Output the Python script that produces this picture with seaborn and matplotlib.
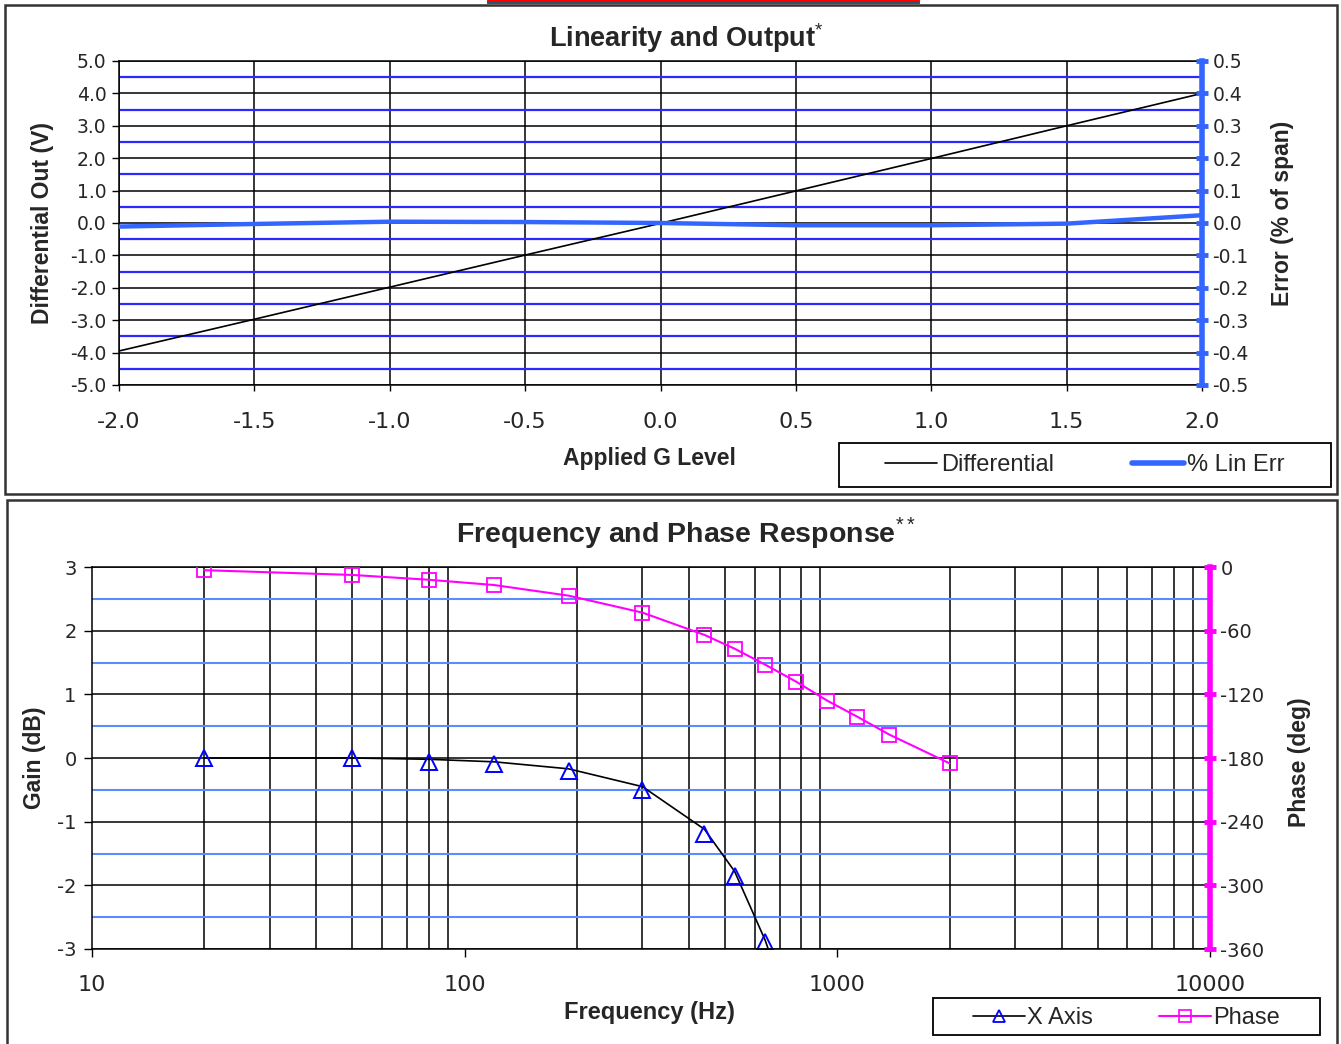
import numpy as np
import matplotlib
matplotlib.use("Agg")
import matplotlib.pyplot as plt
import seaborn as sns
from matplotlib.ticker import MultipleLocator, LogLocator, FixedLocator, NullFormatter, FormatStrFormatter
from matplotlib.patches import Rectangle
from matplotlib.lines import Line2D

sns.set_style("white")
plt.rcParams['font.family'] = ['Liberation Sans', 'DejaVu Sans']
plt.rcParams['axes.unicode_minus'] = False
plt.rcParams['mathtext.fontset'] = 'custom'
plt.rcParams['mathtext.rm'] = 'Liberation Sans'
plt.rcParams['mathtext.bf'] = 'Liberation Sans:bold'

# Linearity data
g_level = [-2.0, -1.5, -1.0, -0.5, 0.0, 0.5, 1.0, 1.5, 2.0]
diff_out = [-3.95, -2.97, -1.98, -0.99, -0.01, 0.99, 1.99, 3.0, 4.0]
lin_err = [-0.011, -0.003, 0.004, 0.003, 0.0, -0.007, -0.007, -0.002, 0.024]

# Frequency response data
gain_freq = [20, 50, 80, 120, 190, 300, 440, 530, 640]
gain_db = [0.0, 0.0, -0.07, -0.09, -0.21, -0.50, -1.20, -1.85, -2.89]
# curve drawn with the gain points, runs off the bottom of the plot
curve_freq = [20, 50, 80, 120, 190, 300, 440, 530, 640, 680]
curve_db = [0.0, 0.0, -0.02, -0.06, -0.17, -0.45, -1.12, -1.78, -2.86, -3.3]
phase_freq = [20, 50, 80, 120, 190, 300, 440, 530, 640, 775, 940, 1130, 1380, 2000]
phase_deg = [-3, -7.5, -12, -17, -27, -43, -64, -77, -92, -108, -126, -141, -158, -185]

LIN_BLUE = '#3366ff'
GRID_BLUE = '#2a2aff'
GRID_BLUE2 = '#5b8cff'
MAGENTA = '#ff00ff'
TICK_FONT = ['DejaVu Sans']

fig = plt.figure(figsize=(13.41, 10.44), dpi=100)

# panel borders
fig.add_artist(Rectangle((5 / 1341, 1 - 494 / 1044), 1332 / 1341, 489 / 1044,
                         transform=fig.transFigure, fill=False, ec='#333333', lw=1.8))
fig.add_artist(Rectangle((7 / 1341, -0.01), 1330 / 1341, 544 / 1044 + 0.01,
                         transform=fig.transFigure, fill=False, ec='#333333', lw=1.8))
fig.add_artist(Rectangle((487 / 1341, 1 - 3 / 1044), 432 / 1341, 3 / 1044,
                         transform=fig.transFigure, fc='#1f5a70', ec='red', lw=0.8))

# ---------------- Top chart ----------------
ax1 = fig.add_axes([119 / 1341, 1 - 385 / 1044, 1083 / 1341, 324 / 1044])
ax1r = ax1.twinx()

sns.lineplot(x=g_level, y=diff_out, ax=ax1, color='black', lw=1.2)
sns.lineplot(x=g_level, y=lin_err, ax=ax1r, color=LIN_BLUE, lw=3.2)

ax1.set_xlim(-2, 2)
ax1.set_ylim(-5, 5)
ax1r.set_ylim(-0.5, 0.5)
ax1.xaxis.set_major_locator(MultipleLocator(0.5))
ax1.yaxis.set_major_locator(MultipleLocator(1.0))
ax1.yaxis.set_minor_locator(MultipleLocator(0.5))
ax1r.yaxis.set_major_locator(MultipleLocator(0.1))
ax1.xaxis.set_major_formatter(FormatStrFormatter('%.1f'))
ax1.yaxis.set_major_formatter(FormatStrFormatter('%.1f'))
ax1r.yaxis.set_major_formatter(FormatStrFormatter('%.1f'))

ax1.grid(which='major', axis='both', color='black', lw=1.1)
ax1.grid(which='minor', axis='y', color=GRID_BLUE, lw=1.6)
ax1.tick_params(axis='y', which='major', direction='out', length=5, width=1,
                labelsize=13.5, pad=4, left=True, color='black')
ax1.tick_params(axis='y', which='minor', length=0)
ax1.tick_params(axis='x', which='major', direction='out', length=4, width=1,
                labelsize=16, pad=15.5, bottom=True, color='black')
ax1r.tick_params(axis='y', which='major', direction='inout', length=9, width=3.5,
                 color=LIN_BLUE, labelsize=13.5, pad=3, right=True)
for lab in ax1.get_xticklabels() + ax1.get_yticklabels() + ax1r.get_yticklabels():
    lab.set_family(TICK_FONT)

for s in ['left', 'top', 'bottom']:
    ax1.spines[s].set_color('black')
    ax1.spines[s].set_linewidth(1.1)
    ax1r.spines[s].set_visible(False)
ax1.spines['right'].set_visible(False)
ax1r.spines['right'].set_color(LIN_BLUE)
ax1r.spines['right'].set_linewidth(4)

ax1.set_xlabel('Applied G Level', fontsize=16.5, fontweight='bold', va='center', ha='center')
ax1.xaxis.set_label_coords(0.49, -0.228)
ax1.set_ylabel('Differential Out (V)', fontsize=16.5, fontweight='bold', va='center', ha='center')
ax1.yaxis.set_label_coords(-0.071, 0.5)
ax1r.set_ylabel('Error (% of span)', fontsize=16.5, fontweight='bold', va='center', ha='center')
ax1r.yaxis.set_label_coords(1.074, 0.53)

fig.text(686 / 1341, 1 - 38 / 1044, r'Linearity and Output$^{*}$', fontsize=19.5,
         fontweight='bold', ha='center', va='center')

leg1_handles = [Line2D([], [], color='black', lw=1.2), Line2D([], [], color=LIN_BLUE, lw=4)]
fig.legend(leg1_handles, ['Differential', '% Lin Err'], loc='center',
           bbox_to_anchor=(1085 / 1341, 1 - 465 / 1044), bbox_transform=fig.transFigure,
           ncol=2, frameon=False, fontsize=17, handlelength=2.2, handletextpad=0.15,
           columnspacing=3.3)
fig.add_artist(Rectangle((839 / 1341, 1 - 487 / 1044), 492 / 1341, 44 / 1044,
                         transform=fig.transFigure, fill=False, ec='black', lw=1.3))

# ---------------- Bottom chart ----------------
ax2 = fig.add_axes([92 / 1341, 1 - 949 / 1044, 1118 / 1341, 382 / 1044])
ax2r = ax2.twinx()

sns.lineplot(x=curve_freq, y=curve_db, ax=ax2, color='black', lw=1.2)
sns.lineplot(x=gain_freq, y=gain_db, ax=ax2, color='none', lw=0, marker='^',
             markersize=11, markerfacecolor='none', markeredgecolor='#0000ff', mew=1.4)
sns.lineplot(x=phase_freq, y=phase_deg, ax=ax2r, color=MAGENTA, lw=1.5, marker='s',
             markersize=9.5, markerfacecolor='none', markeredgecolor=MAGENTA, mew=1.3)

ax2.set_xscale('log')
ax2.set_xlim(10, 10000)
ax2.set_ylim(-3, 3)
ax2r.set_ylim(-360, 0)
ax2.xaxis.set_major_locator(FixedLocator([10, 100, 1000, 10000]))
ax2.xaxis.set_minor_locator(LogLocator(base=10, subs=range(2, 10)))
ax2.xaxis.set_minor_formatter(NullFormatter())
ax2.xaxis.set_major_formatter(FormatStrFormatter('%d'))
ax2.yaxis.set_major_locator(MultipleLocator(1))
ax2.yaxis.set_minor_locator(MultipleLocator(0.5))
ax2.yaxis.set_major_formatter(FormatStrFormatter('%d'))
ax2r.yaxis.set_major_locator(MultipleLocator(60))
ax2r.yaxis.set_major_formatter(FormatStrFormatter('%d'))

ax2.grid(which='minor', axis='x', color='black', lw=1.1)
ax2.grid(which='major', axis='x', visible=False)
ax2.grid(which='major', axis='y', color='black', lw=1.1)
ax2.grid(which='minor', axis='y', color=GRID_BLUE2, lw=1.5)
ax2.tick_params(axis='x', which='major', direction='out', length=6, width=1,
                labelsize=16, pad=12.5, bottom=True, color='black')
ax2.tick_params(axis='both', which='minor', length=0)
ax2.tick_params(axis='y', which='major', direction='out', length=6, width=1,
                labelsize=14, pad=5, left=True, color='black')
ax2r.tick_params(axis='y', which='major', direction='inout', length=9, width=3.5,
                 color=MAGENTA, labelsize=14, pad=3, right=True)
for lab in ax2.get_xticklabels() + ax2.get_yticklabels() + ax2r.get_yticklabels():
    lab.set_family(TICK_FONT)

for s in ['left', 'top', 'bottom']:
    ax2.spines[s].set_color('black')
    ax2.spines[s].set_linewidth(1.1)
    ax2r.spines[s].set_visible(False)
ax2.spines['right'].set_visible(False)
ax2r.spines['right'].set_color(MAGENTA)
ax2r.spines['right'].set_linewidth(4)

ax2.set_xlabel('Frequency (Hz)', fontsize=17, fontweight='bold', va='center', ha='center')
ax2.xaxis.set_label_coords(0.499, -0.165)
ax2.set_ylabel('Gain (dB)', fontsize=16.5, fontweight='bold', va='center', ha='center')
ax2.yaxis.set_label_coords(-0.051, 0.5)
ax2r.set_ylabel('Phase (deg)', fontsize=16.5, fontweight='bold', va='center', ha='center',
                rotation=90)
ax2r.yaxis.set_label_coords(1.0805, 0.49)

fig.text(686 / 1341, 1 - 533 / 1044, r'Frequency and Phase Response$^{**}$', fontsize=20.5,
         fontweight='bold', ha='center', va='center')

leg2_handles = [Line2D([], [], color='black', lw=1.2, marker='^', markersize=9,
                       markerfacecolor='none', markeredgecolor='#0000ff', mew=1.3),
                Line2D([], [], color=MAGENTA, lw=1.5, marker='s', markersize=8,
                       markerfacecolor='none', markeredgecolor=MAGENTA, mew=1.2)]
fig.legend(leg2_handles, ['X Axis', 'Phase'], loc='center',
           bbox_to_anchor=(1126.5 / 1341, 1 - 1018 / 1044), bbox_transform=fig.transFigure,
           ncol=2, frameon=False, fontsize=17, handlelength=2.2, handletextpad=0.1,
           columnspacing=2.8)
fig.add_artist(Rectangle((933 / 1341, 1 - 1035 / 1044), 387 / 1341, 37 / 1044,
                         transform=fig.transFigure, fill=False, ec='black', lw=1.3))

fig.savefig('out.png', dpi=100)
